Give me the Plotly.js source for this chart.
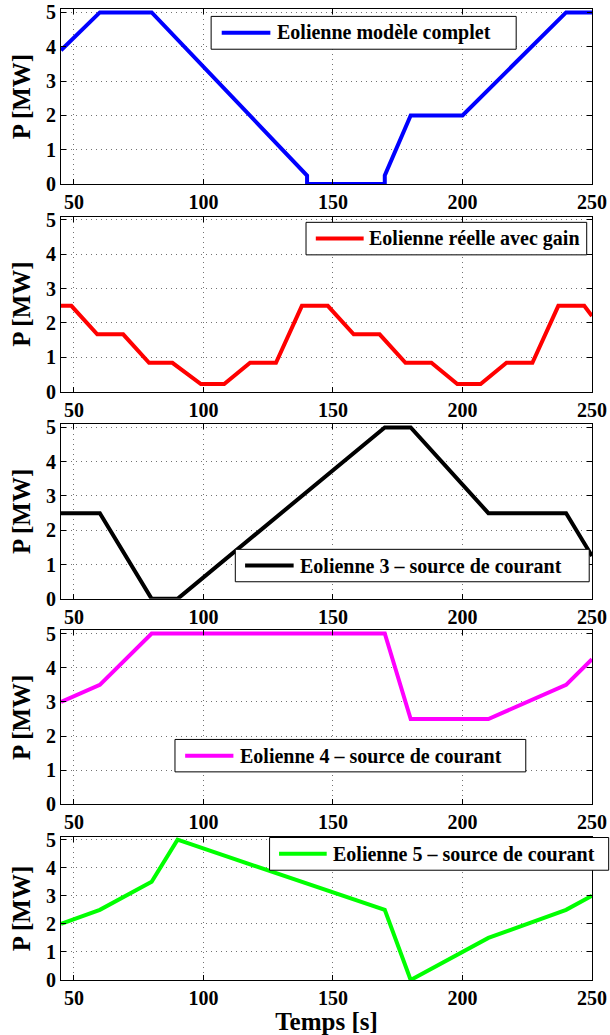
<!DOCTYPE html>
<html>
<head>
<meta charset="utf-8">
<script src="https://cdn.plot.ly/plotly-3.0.1.min.js"></script>
<style>html,body{margin:0;padding:0;background:#fff;}#chart{width:610px;height:1035px;}</style>
</head>
<body>
<div id="chart"></div>
<script>
// ---- Data ----
const xTicks = [50, 100, 150, 200, 250];
const yTicks = [0, 1, 2, 3, 4, 5];

const names = [
  "Eolienne modèle complet",
  "Eolienne réelle avec gain",
  "Eolienne 3 \u2013 source de courant",
  "Eolienne 4 \u2013 source de courant",
  "Eolienne 5 \u2013 source de courant"
];

const t1 = [45, 60, 80, 140, 140, 170, 170, 180, 200, 240, 250];
const p1 = [3.9, 5, 5, 0.25, 0, 0, 0.25, 2, 2, 5, 5];

const t2 = [45, 49, 59, 69, 79, 88, 99, 108, 118, 128, 138, 148, 158, 168, 178, 188, 198, 207, 217, 227, 237, 247, 250];
const p2 = [2.5, 2.5, 1.67, 1.67, 0.84, 0.84, 0.22, 0.22, 0.84, 0.84, 2.5, 2.5, 1.67, 1.67, 0.84, 0.84, 0.22, 0.22, 0.84, 0.84, 2.5, 2.5, 2.2];

const t3 = [45, 60, 80, 90, 170, 180, 210, 240, 250];
const p3 = [2.5, 2.5, 0, 0, 5, 5, 2.5, 2.5, 1.25];

const t4 = [45, 60, 80, 170, 180, 210, 240, 250];
const p4 = [3, 3.5, 5, 5, 2.5, 2.5, 3.5, 4.25];

const t5 = [45, 60, 80, 90, 170, 180, 210, 240, 250];
const p5 = [2, 2.5, 3.5, 5, 2.5, 0, 1.5, 2.5, 3];

const colors = ["#0000ff", "#ff0000", "#000000", "#ff00ff", "#00ff00"];
const series = [[t1, p1], [t2, p2], [t3, p3], [t4, p4], [t5, p5]];

// ---- Layout ----
const FONT = "Liberation Serif, Times New Roman, serif";
const W = 610, H = 1035;
const M = {l: 60.7, r: 17.7, t: 9.3, b: 55.3};
const PW = W - M.l - M.r, PH = H - M.t - M.b;
const xp = px => (px - M.l) / PW;
const yp = py => (H - M.b - py) / PH;

// panel plot-area pixel tops / bottoms
const panelPx = [[9.3, 184.3], [216.7, 391.7], [424, 598.8], [630, 804.3], [836.7, 979.7]];
// legend boxes in pixels: [left, right, top, bottom, lineStart, lineEnd, textLeft]
const legendPx = [
  [211, 516.4, 16.7, 49.5, 221.6, 270.3, 275.5],
  [306, 587, 222.5, 255, 315.8, 363.7, 368.5],
  [235.2, 589.5, 549.3, 581.7, 245, 293.6, 298.5],
  [174.8, 526, 739.3, 771.7, 185, 233.3, 238.5],
  [269.5, 609, 837.3, 870, 279, 326.7, 332.5]
];

const traces = series.map((s, i) => ({
  x: s[0], y: s[1], type: "scatter", mode: "lines",
  name: names[i],
  line: {color: colors[i], width: 4},
  xaxis: i === 0 ? "x" : "x" + (i + 1),
  yaxis: i === 0 ? "y" : "y" + (i + 1),
  showlegend: false
}));

const layout = {
  width: W, height: H,
  margin: Object.assign({autoexpand: false}, M),
  paper_bgcolor: "#ffffff", plot_bgcolor: "#ffffff",
  font: {family: FONT, color: "#000", size: 20, weight: "bold"},
  showlegend: false,
  shapes: [], annotations: []
};

for (let i = 0; i < 5; i++) {
  const sx = i === 0 ? "" : String(i + 1);
  const axCommon = {
    showline: true, linecolor: "#000", linewidth: 1, mirror: "ticks",
    ticks: "inside", ticklen: 5, tickcolor: "#000", tickwidth: 1,
    showgrid: true, gridcolor: "rgba(0,0,0,0.55)", gridwidth: 1, griddash: "1px,4px",
    zeroline: false,
    tickfont: {family: FONT, size: 20, color: "#000", weight: "bold"},
    fixedrange: true
  };
  layout["xaxis" + sx] = Object.assign({}, axCommon, {
    range: [45, 250], tickvals: xTicks, ticktext: xTicks.map(String),
    anchor: "y" + sx, domain: [0, 1]
  });
  layout["yaxis" + sx] = Object.assign({}, axCommon, {
    range: [0, 5.1], tickvals: yTicks, ticktext: yTicks.map(String),
    anchor: "x" + sx, domain: [yp(panelPx[i][1]), yp(panelPx[i][0])],
    title: {text: "P [MW]", font: {family: FONT, size: 25, color: "#000", weight: "bold"}, standoff: 8}
  });

  // legend box (drawn over the data, like the original)
  const L = legendPx[i];
  layout.shapes.push({
    type: "rect", xref: "paper", yref: "paper", layer: "above",
    x0: xp(L[0]), x1: xp(L[1]), y0: yp(L[3]), y1: yp(L[2]),
    fillcolor: "#ffffff", line: {color: "#000", width: 1}
  });
  const yc = yp((L[2] + L[3]) / 2);
  layout.shapes.push({
    type: "line", xref: "paper", yref: "paper", layer: "above",
    x0: xp(L[4]), x1: xp(L[5]), y0: yc, y1: yc,
    line: {color: colors[i], width: 4}
  });
  layout.annotations.push({
    xref: "paper", yref: "paper", x: xp(L[6]), y: yc,
    xanchor: "left", yanchor: "middle", showarrow: false,
    text: names[i], borderpad: 0,
    font: {family: FONT, size: 20, color: "#000", weight: "bold"}
  });
}
layout.xaxis5.title = {text: "Temps [s]", font: {family: FONT, size: 25, color: "#000", weight: "bold"}, standoff: 4};

Plotly.newPlot("chart", traces, layout, {staticPlot: true, displayModeBar: false});
</script>
</body>
</html>
